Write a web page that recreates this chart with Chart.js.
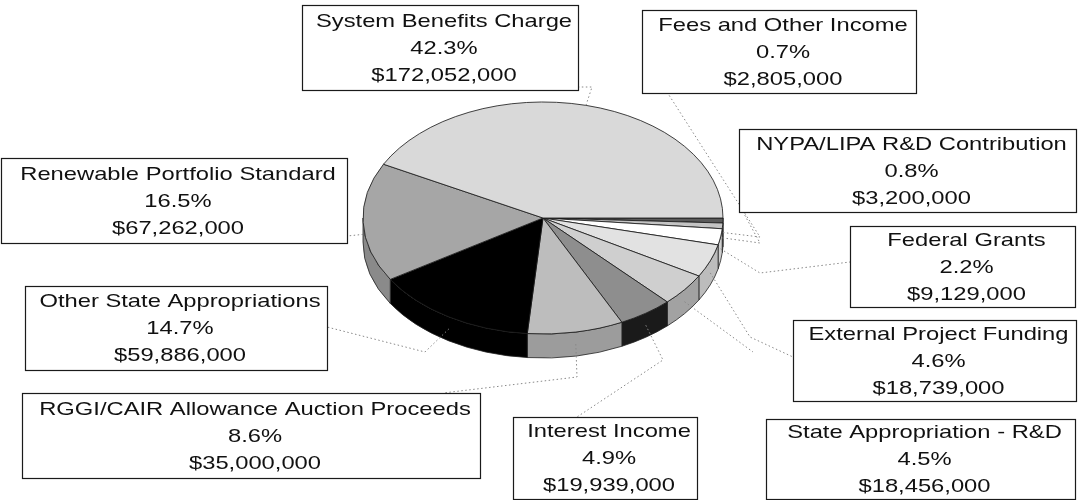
<!DOCTYPE html>
<html>
<head>
<meta charset="utf-8">
<title>Funding sources</title>
<script src="https://cdn.jsdelivr.net/npm/chart.js@4.4.1/dist/chart.umd.min.js"></script>
<style>
  html, body { margin: 0; padding: 0; background: #fff; }
</style>
</head>
<body>
<canvas id="fundChart" width="1078" height="500"></canvas>
<script>
// slices go clockwise starting at 3 o'clock, same as the original
const categories = ['Fees and Other Income', 'NYPA/LIPA R&D Contribution', 'Federal Grants',
  'External Project Funding', 'State Appropriation - R&D', 'Interest Income',
  'RGGI/CAIR Allowance Auction Proceeds', 'Other State Appropriations',
  'Renewable Portfolio Standard', 'System Benefits Charge'];
const amounts = [2805000, 3200000, 9129000, 18739000, 18456000, 19939000,
  35000000, 59886000, 67262000, 172052000];

const topColors  = ['#5a5a5a', '#c4c4c4', '#ffffff', '#e2e2e2', '#cfcfcf', '#8e8e8e', '#bdbdbd', '#000000', '#a6a6a6', '#d9d9d9'];
const sideColors = ['#444444', '#a8a8a8', '#d0d0d0', '#bcbcbc', '#a2a2a2', '#1a1a1a', '#9c9c9c', '#000000', '#8a8a8a', '#b0b0b0'];

// label boxes [x, y, w, h] and leader bends, same order as categories
const boxes = [
  [642, 10, 274, 83], [739, 129, 337, 83], [850, 226, 225, 81], [793, 320, 283, 81],
  [766, 419, 309, 80], [513, 417, 184, 82], [22, 393, 458, 85], [25, 286, 302, 84],
  [1, 158, 346, 85], [302, 5, 276, 85]
];
const leaders = [
  [[760, 237], [667, 92]], [[760, 243], [743, 212]], [[760, 273], [850, 262]],
  [[750, 337], [793, 357]], [[753, 352]], [[663, 360], [577, 417]],
  [[577, 377], [443, 393]], [[425, 352], [327, 327]], [[347, 236]],
  [[592, 87], [578, 87]]
];

const SQUASH = 116 / 180;
const DEPTH = 24;
const TEXT_STRETCH = 1.25;
const total = amounts.reduce((a, b) => a + b, 0);

const tilt = {
  id: 'tilt',
  beforeDatasetsDraw(chart) {
    const ctx = chart.ctx;
    const arcs = chart.getDatasetMeta(0).data;
    const cx = arcs[0].x, cy = arcs[0].y, r = arcs[0].outerRadius, ry = r * SQUASH;
    // side wall, only the front half shows
    arcs.forEach((arc, i) => {
      const a1 = Math.max(arc.startAngle, 0);
      const a2 = Math.min(arc.endAngle, Math.PI);
      if (a2 <= a1) return;
      ctx.beginPath();
      ctx.ellipse(cx, cy, r, ry, 0, a1, a2, false);
      ctx.ellipse(cx, cy + DEPTH, r, ry, 0, a2, a1, true);
      ctx.closePath();
      ctx.fillStyle = sideColors[i];
      ctx.fill();
      ctx.strokeStyle = '#222';
      ctx.lineWidth = 0.8;
      ctx.stroke();
    });
    ctx.save();
    ctx.translate(0, cy);
    ctx.scale(1, SQUASH);
    ctx.translate(0, -cy);
  },
  afterDatasetsDraw(chart) {
    chart.ctx.restore();
  }
};

function stretchedText(ctx, str, x, y) {
  ctx.save();
  ctx.translate(x, y);
  ctx.scale(TEXT_STRETCH, 1);
  ctx.fillText(str, 0, 0);
  ctx.restore();
}

const labelBoxes = {
  id: 'labelBoxes',
  afterDraw(chart) {
    const ctx = chart.ctx;
    const arcs = chart.getDatasetMeta(0).data;
    ctx.save();
    // leader lines
    ctx.strokeStyle = '#888';
    ctx.lineWidth = 1;
    ctx.setLineDash([1.5, 2.5]);
    arcs.forEach((arc, i) => {
      const mid = (arc.startAngle + arc.endAngle) / 2;
      const r = arc.outerRadius;
      const px = arc.x + r * Math.cos(mid);
      const py = arc.y + r * SQUASH * Math.sin(mid) + (Math.sin(mid) > 0 ? DEPTH / 2 : 0);
      ctx.beginPath();
      ctx.moveTo(px, py);
      leaders[i].forEach(p => ctx.lineTo(p[0], p[1]));
      ctx.stroke();
    });
    ctx.setLineDash([]);
    // boxes and text
    ctx.font = '19px "Liberation Sans", Arial, sans-serif';
    ctx.textAlign = 'center';
    ctx.textBaseline = 'alphabetic';
    categories.forEach((name, i) => {
      const [x, y, w, h] = boxes[i];
      ctx.fillStyle = '#fff';
      ctx.fillRect(x + 0.5, y + 0.5, w, h);
      ctx.strokeStyle = '#1a1a1a';
      ctx.lineWidth = 1.2;
      ctx.strokeRect(x + 0.5, y + 0.5, w, h);
      const tx = x + w / 2 + 4;
      const mid = y + h / 2 + 6;
      ctx.fillStyle = '#111';
      stretchedText(ctx, name, tx, mid - 27);
      stretchedText(ctx, (amounts[i] / total * 100).toFixed(1) + '%', tx, mid);
      stretchedText(ctx, '$' + amounts[i].toLocaleString('en-US'), tx, mid + 27);
    });
    ctx.restore();
  }
};

const chart = new Chart(document.getElementById('fundChart').getContext('2d'), {
  type: 'pie',
  data: {
    labels: categories,
    datasets: [{
      data: amounts,
      backgroundColor: topColors,
      borderColor: '#1a1a1a',
      borderWidth: 1
    }]
  },
  options: {
    responsive: false,
    animation: false,
    events: [],
    rotation: 90,
    radius: 180,
    layout: { padding: { left: 343, right: 335, top: 18, bottom: 82 } },
    plugins: {
      legend: { display: false },
      tooltip: { enabled: false }
    }
  },
  plugins: [tilt, labelBoxes]
});
</script>
</body>
</html>
